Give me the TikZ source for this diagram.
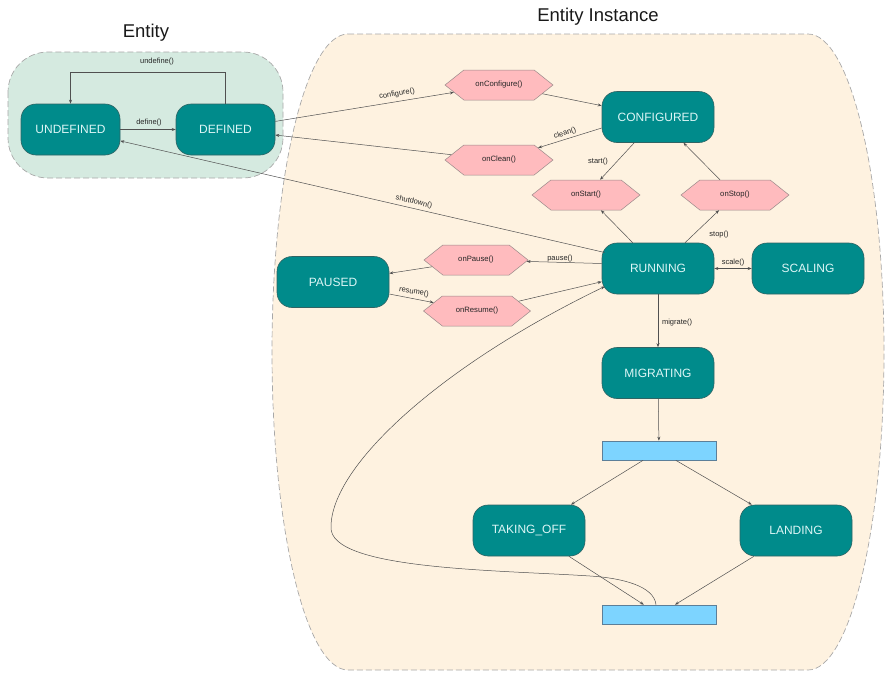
\documentclass[tikz,border=0pt]{standalone}
\usepackage{fontspec}
\setmainfont{Liberation Sans}
\usetikzlibrary{shapes.symbols,arrows.meta,calc}

\definecolor{stateFill}{HTML}{008B8B}
\definecolor{stateLine}{HTML}{2F6464}
\definecolor{stateText}{HTML}{DDF6F6}
\definecolor{hookFill}{HTML}{FFBBBE}
\definecolor{hookLine}{HTML}{9A8A8A}
\definecolor{barFill}{HTML}{7DD4FF}
\definecolor{barLine}{HTML}{5C7F99}
\definecolor{entFill}{HTML}{D5EAE0}
\definecolor{instFill}{HTML}{FEF2E0}
\definecolor{frameLine}{HTML}{A8A8A8}
\definecolor{wireCol}{HTML}{505050}

\tikzset{
  state/.style={draw=stateLine, line width=0.6pt, fill=stateFill, text=stateText,
    rounded corners=15pt, minimum width=112pt, minimum height=51pt, inner sep=0pt,
    font=\fontsize{12}{14}\selectfont},
  hook/.style={shape=signal, signal to=west and east, signal pointer angle=77,
    draw=hookLine, fill=hookFill, line width=0.5pt, minimum width=108pt,
    minimum height=30pt, inner sep=0pt, font=\fontsize{7.7}{9}\selectfont, text=black!85},
  bar/.style={draw=barLine, fill=barFill, line width=0.6pt, minimum width=114pt,
    minimum height=19pt, inner sep=0pt},
  wire/.style={draw=wireCol, line width=0.5pt, -{Stealth[length=4pt,width=3pt]}},
  lbl/.style={font=\fontsize{7.5}{9}\selectfont, text=black!85, inner sep=0pt},
  frame/.style={draw=frameLine, line width=0.7pt, dash pattern=on 6pt off 3pt},
  title/.style={font=\fontsize{18.5}{22}\selectfont, text=black!90, inner sep=0pt}
}

\begin{document}
\begin{tikzpicture}[x=1pt,y=-1pt]
\useasboundingbox (0,0) rectangle (886,675);

% containers
\draw[frame, fill=instFill] (348,34) -- (808,34)
  .. controls (850,34) and (884,176) .. (884,352)
  .. controls (884,528) and (850,670) .. (808,670) -- (348,670)
  .. controls (306,670) and (272,528) .. (272,352)
  .. controls (272,176) and (306,34) .. (348,34) -- cycle;
\draw[frame, fill=entFill, rounded corners=40pt] (8,52) rectangle (283,178);

\node[title] (entityTitle) at (146,33) {Entity};
\node[title] (instTitle) at (598,17) {Entity Instance};

% states
\node[state, minimum width=99pt] (UNDEFINED) at (70.5,129.5) {UNDEFINED};
\node[state, minimum width=99pt] (DEFINED) at (225.5,129.5) {DEFINED};
\node[state] (CONFIGURED) at (658,117) {CONFIGURED};
\node[state] (RUNNING) at (658,268.5) {RUNNING};
\node[state] (SCALING) at (808,268.5) {SCALING};
\node[state] (PAUSED) at (333,282) {PAUSED};
\node[state] (MIGRATING) at (658,373) {MIGRATING};
\node[state] (TAKINGOFF) at (529,530.5) {TAKING\_OFF};
\node[state] (LANDING) at (796,530.5) {LANDING};

% lifecycle hooks
\node[hook] (onConfigure) at (499,85) {onConfigure()};
\node[hook] (onClean) at (499,160) {onClean()};
\node[hook] (onStart) at (586,195) {onStart()};
\node[hook] (onStop) at (735,195) {onStop()};
\node[hook, minimum width=104pt] (onPause) at (476,260) {onPause()};
\node[hook, minimum width=107pt] (onResume) at (477,311) {onResume()};

% fork / join bars
\node[bar] (fork) at (659,450.5) {};
\node[bar] (join) at (659,614.5) {};

% transitions
\draw[wire] (UNDEFINED) -- (DEFINED);
\node[lbl] (lDefine) at (149,123) {define()};
\draw[wire] (DEFINED.north) -- ++(0,-31) -| (UNDEFINED.north);
\node[lbl] (lUndefine) at (157,62) {undefine()};

\draw[wire] (DEFINED) -- (onConfigure);
\node[lbl, rotate=9] (lConfigure) at (397,94) {configure()};
\draw[wire] (onConfigure) -- (CONFIGURED);

\draw[wire] ($(CONFIGURED.west)+(0,11)$) -- (onClean);
\node[lbl, rotate=18] (lClean) at (565,133.5) {clean()};
\draw[wire] (onClean) -- (DEFINED);

\draw[wire] (CONFIGURED) -- (onStart);
\node[lbl] (lStart) at (598,162) {start()};
\draw[wire] (onStop) -- (CONFIGURED);
\draw[wire] (RUNNING) -- (onStart);
\draw[wire] (RUNNING) -- (onStop);
\node[lbl] (lStop) at (719,235) {stop()};

\draw[wire] ($(RUNNING.west)+(3,-16)$) -- (UNDEFINED);
\node[lbl, rotate=-13] (lShutdown) at (414,202) {shutdown()};

\draw[wire] ($(RUNNING.west)+(0,-5)$) -- (onPause);
\node[lbl] (lPause) at (560,258.5) {pause()};
\draw[wire] (onPause) -- (PAUSED);
\draw[wire] ($(PAUSED.east)+(0,12)$) -- (onResume);
\node[lbl, rotate=-10] (lResume) at (414,292) {resume()};
\draw[wire] (onResume) -- (RUNNING);

\draw[wire, {Stealth[length=4pt,width=3pt]}-{Stealth[length=4pt,width=3pt]}] (RUNNING) -- (SCALING);
\node[lbl] (lScale) at (733,263) {scale()};

\draw[wire] (RUNNING) -- (MIGRATING);
\node[lbl] (lMigrate) at (677,323) {migrate()};
\draw[wire] (MIGRATING) -- (fork);
\draw[wire] (fork) -- (TAKINGOFF);
\draw[wire] (fork) -- (LANDING);
\draw[wire] (TAKINGOFF) -- (join);
\draw[wire] (LANDING) -- (join);

% return path from the join bar back to RUNNING
\coordinate (loopBottom) at (590,576);
\coordinate (loopLeft) at (331,527);
\draw[wire] ($(join.north)+(-3,0)$) .. controls (654,586) and (622,578) .. (loopBottom)
  .. controls (500,570) and (329,570) .. (loopLeft)
  .. controls (331,466) and (440,366) .. ($(RUNNING.west)+(3,18)$);
\end{tikzpicture}
\end{document}
